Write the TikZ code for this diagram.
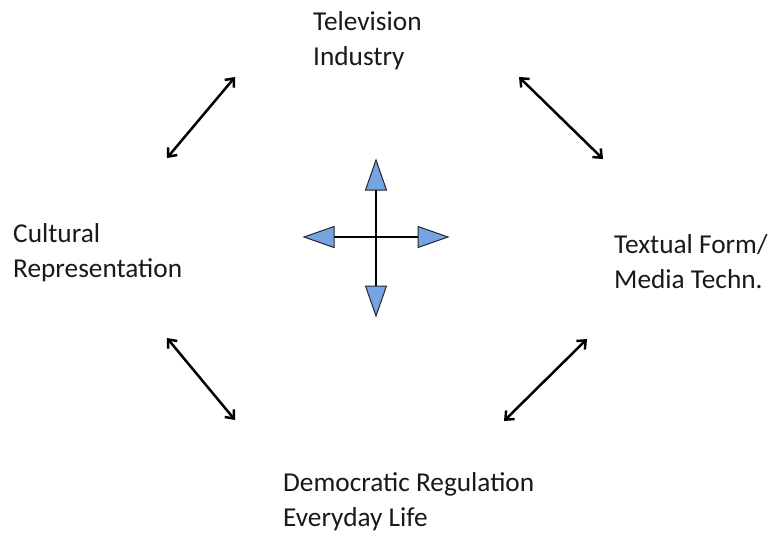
\documentclass[tikz,border=0pt]{standalone}
\usepackage{fontspec}
\setmainfont{Carlito}
\usetikzlibrary{arrows.meta,calc}
\definecolor{triblue}{RGB}{118,164,226}

\begin{document}
\begin{tikzpicture}[x=1pt,y=-1pt,
  lbl/.style={anchor=north west,inner sep=0pt,align=left,font=\fontsize{27.3}{35}\selectfont,text=black!90},
  link/.style={{Straight Barb[length=7pt,width=12pt]}-{Straight Barb[length=7pt,width=12pt]},line width=2.5pt},
  tri/.style={draw=black!85,line width=1pt,fill=triblue}]
\useasboundingbox (0,0) rectangle (771,533);

\node[lbl] (tv) at (313,11) {Television\\Industry};
\node[lbl] (cult) at (13,223) {Cultural\\Representation};
\node[lbl] (form) at (614,234) {Textual Form/\\Media Techn.};
\node[lbl] (demo) at (283,472.5) {Democratic Regulation\\Everyday Life};

% double arrows between the four labels
\coordinate (s1) at (167,158); \coordinate (e1) at (235,77);
\coordinate (s2) at (519,77);  \coordinate (e2) at (603,159);
\coordinate (s3) at (167,338); \coordinate (e3) at (235,420);
\coordinate (s4) at (587,339); \coordinate (e4) at (504,421);
\foreach \i in {1,...,4} {
  \draw[link] (s\i) -- (e\i);
  }

% cross in the middle
\coordinate (O) at (376,237);
\foreach \a/\len in {0/72,90/79,180/72,270/77} {
  \draw[line width=1.6pt] (O) -- ($(O)+(\a:\len-30)$);
  \draw[tri] ($(O)+(\a:\len)$) -- ($(O)+(\a:\len-30)+(\a+90:10.5)$)
    -- ($(O)+(\a:\len-30)+(\a-90:10.5)$) -- cycle;
  }
\end{tikzpicture}
\end{document}
